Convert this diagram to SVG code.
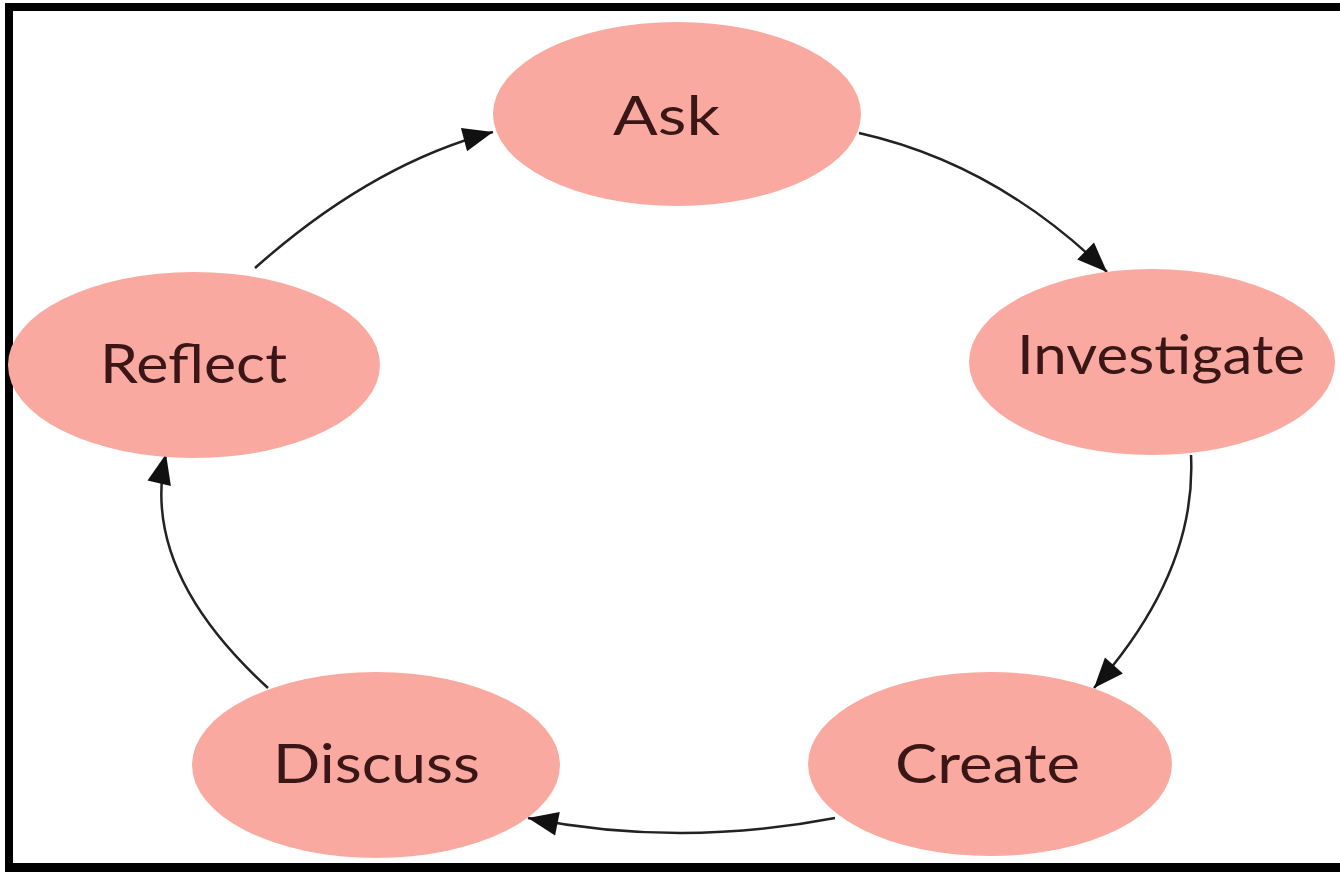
<svg xmlns="http://www.w3.org/2000/svg" width="1340" height="872" viewBox="0 0 1340 872">
  <defs>
    <style>
      .node { fill: #F9A99F; }
      .label { font-family: "Lato", "Noto Sans", "Liberation Sans", sans-serif; font-size: 54px; fill: #3a1616; text-anchor: start; }
      .edge { fill: none; stroke: #222222; stroke-width: 2.5; }
    </style>
    <marker id="arrow" markerUnits="userSpaceOnUse" markerWidth="32" markerHeight="28" refX="30" refY="13" orient="auto" overflow="visible">
      <path d="M0,1 L30,13 L0,25 Z" fill="#111111"/>
    </marker>
  </defs>
  <rect x="0" y="0" width="1340" height="872" fill="#ffffff"/>
  <g id="frame">
    <rect x="5" y="3" width="1335" height="8" fill="#000000"/>
    <rect x="5" y="3" width="8" height="869" fill="#000000"/>
    <rect x="5" y="863" width="1335" height="9" fill="#000000"/>
  </g>
  <g id="connectors">
    <path class="edge" d="M859,133 Q997,164 1107,272" marker-end="url(#arrow)"/>
    <path class="edge" d="M1191,455 Q1197,572 1094,688" marker-end="url(#arrow)"/>
    <path class="edge" d="M835,818 Q679,848 528,818" marker-end="url(#arrow)"/>
    <path class="edge" d="M268,688 Q139,570 166,454" marker-end="url(#arrow)"/>
    <path class="edge" d="M255,268 Q372,164 493,132" marker-end="url(#arrow)"/>
  </g>
  <g id="node-ask">
    <ellipse class="node" cx="677" cy="114" rx="184" ry="92"/>
    <text class="label" x="613" y="135" textLength="107" lengthAdjust="spacingAndGlyphs">Ask</text>
  </g>
  <g id="node-investigate">
    <ellipse class="node" cx="1152" cy="362" rx="183" ry="93"/>
    <text class="label" x="1017" y="374" textLength="288" lengthAdjust="spacingAndGlyphs">Investigate</text>
  </g>
  <g id="node-create">
    <ellipse class="node" cx="990" cy="764" rx="182" ry="92"/>
    <text class="label" x="895" y="783" textLength="185" lengthAdjust="spacingAndGlyphs">Create</text>
  </g>
  <g id="node-discuss">
    <ellipse class="node" cx="376" cy="765" rx="184" ry="93"/>
    <text class="label" x="273" y="783" textLength="207" lengthAdjust="spacingAndGlyphs">Discuss</text>
  </g>
  <g id="node-reflect">
    <ellipse class="node" cx="194" cy="365" rx="186" ry="93"/>
    <text class="label" x="100" y="383" textLength="187" lengthAdjust="spacingAndGlyphs">Reflect</text>
  </g>
</svg>
